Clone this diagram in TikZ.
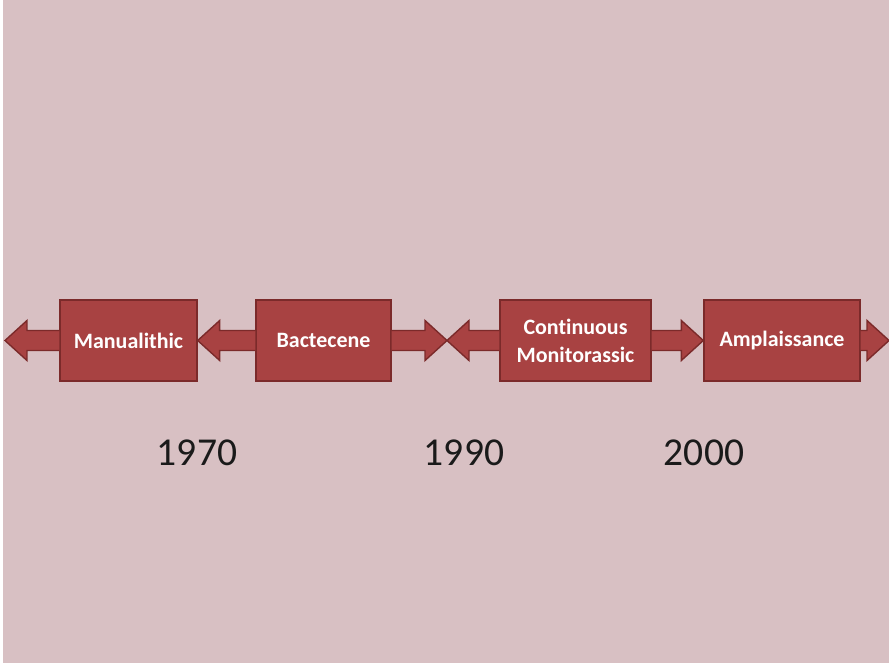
\documentclass[tikz,border=0pt]{standalone}
\usepackage{fontspec}
\setmainfont{Carlito}[RawFeature=-liga]
\usepackage{tikz}
\usetikzlibrary{calc}
\definecolor{paper}{HTML}{D8C0C3}
\definecolor{boxred}{HTML}{A84242}
\definecolor{boxline}{HTML}{7B2A2A}
\definecolor{yeartext}{HTML}{1A1A1A}

% block arrow from #1 to the tip #2
\newcommand\blockarrow[2]{
  \path ($(#2)!0.44cm!(#1)$) coordinate (hb);
  \filldraw[arrowbody] ($(#1)+(0,10)$) -- ($(hb)+(0,10)$) -- ($(hb)+(0,20)$) -- (#2)
    -- ($(hb)+(0,-20)$) -- ($(hb)+(0,-10)$) -- ($(#1)+(0,-10)$);
}

\begin{document}
\begin{tikzpicture}[x=0.02cm,y=-0.02cm,
  era/.style={draw=boxline,line width=0.8pt,fill=boxred,text=white,
    font=\fontsize{12.5}{16}\selectfont\bfseries,align=center,
    minimum height=81*0.02cm,inner sep=0pt},
  arrowbody/.style={draw=boxline,line width=0.8pt,fill=boxred,line join=miter},
  year/.style={text=yeartext,font=\fontsize{22.5}{26}\selectfont}]
  \useasboundingbox (0,0) rectangle (889,666);
  \fill[white] (0,0) rectangle (889,666);
  \fill[paper] (3,0) rectangle (889,663);

  \node[era,minimum width=137*0.02cm] (man) at (128.5,340.5) {Manualithic};
  \node[era,minimum width=135*0.02cm] (bac) at (323.5,340.5) {Bactecene};
  \node[era,minimum width=151*0.02cm] (con) at (575.5,340.5) {Continuous\\Monitorassic};
  \node[era,minimum width=156*0.02cm] (amp) at (782,340.5) {Amplaissance};

  \coordinate (lefttip) at (5,340.5);
  \coordinate (midtip) at (447,340.5);
  \coordinate (righttip) at (889,340.5);

  \blockarrow{man.west}{lefttip}
  \blockarrow{bac.west}{man.east}
  \blockarrow{bac.east}{midtip}
  \blockarrow{con.west}{midtip}
  \blockarrow{con.east}{amp.west}
  \blockarrow{amp.east}{righttip}

  \node[year] (y1970) at (197,453) {1970};
  \node[year] (y1990) at (464,453) {1990};
  \node[year] (y2000) at (704,453) {2000};
\end{tikzpicture}
\end{document}
